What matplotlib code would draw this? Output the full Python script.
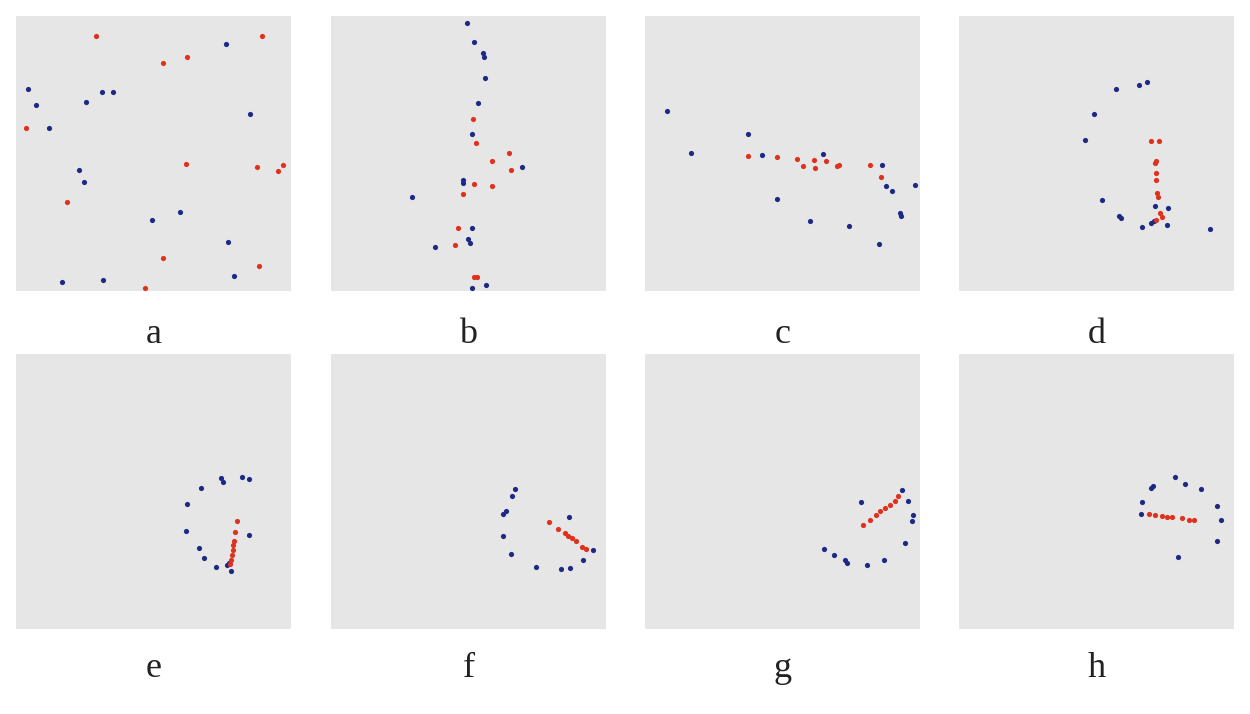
import matplotlib
matplotlib.use("Agg")
from matplotlib import pyplot as plt

# panel point positions (pixels inside each 275x275 panel, y downwards)
labels = ["a", "b", "c", "d", "e", "f", "g", "h"]

red_pts = {
    "a": [(80, 20), (147, 47), (171, 41), (246, 20), (10, 112), (170, 148), (241, 151), (262, 155),
          (267, 149), (51, 186), (147, 242), (243, 250), (129, 272)],
    "b": [(142, 103), (145, 127), (178, 137), (161, 145), (180, 154), (143, 168), (161, 170), (132, 178),
          (127, 212), (124, 229), (143, 261), (146, 261)],
    "c": [(103, 140), (132, 141), (152, 143), (158, 150), (169, 144), (170, 152), (181, 145), (192, 150),
          (194, 149), (225, 149), (236, 161)],
    "d": [(192, 125), (200, 125), (196, 147), (197, 145), (197, 157), (197, 164), (198, 177), (199, 181),
          (201, 197), (203, 201), (197, 204)],
    "e": [(221, 167), (219, 178), (218, 187), (217, 191), (217, 196), (216, 201), (215, 206), (214, 210)],
    "f": [(218, 168), (227, 175), (234, 179), (237, 182), (241, 184), (245, 187), (251, 193), (255, 195)],
    "g": [(218, 171), (225, 166), (231, 161), (235, 157), (240, 154), (245, 151), (250, 147), (253, 142)],
    "h": [(190, 160), (196, 161), (203, 162), (208, 163), (213, 163), (223, 164), (230, 166), (235, 166)],
}

blue_pts = {
    "a": [(210, 28), (12, 73), (20, 89), (70, 86), (86, 76), (97, 76), (33, 112), (234, 98), (63, 154),
          (68, 166), (164, 196), (136, 204), (212, 226), (218, 260), (46, 266), (87, 264)],
    "b": [(136, 7), (143, 26), (152, 37), (153, 41), (154, 62), (147, 87), (141, 118), (191, 151),
          (132, 164), (132, 167), (81, 181), (141, 212), (137, 223), (139, 227), (104, 231), (141, 272),
          (155, 269)],
    "c": [(22, 95), (46, 137), (103, 118), (117, 139), (178, 138), (237, 149), (241, 170), (247, 175),
          (270, 169), (132, 183), (165, 205), (204, 210), (255, 197), (256, 200), (234, 228)],
    "d": [(157, 73), (180, 69), (188, 66), (135, 98), (126, 124), (143, 184), (160, 200), (162, 202),
          (183, 211), (192, 207), (195, 205), (196, 190), (209, 192), (208, 209), (251, 213)],
    "e": [(205, 124), (207, 128), (226, 123), (233, 125), (185, 134), (171, 150), (170, 177), (233, 181),
          (183, 194), (188, 204), (200, 213), (211, 211), (213, 209), (215, 217)],
    "f": [(184, 135), (181, 142), (175, 157), (172, 160), (172, 182), (180, 200), (205, 213), (230, 215),
          (239, 214), (252, 206), (238, 163), (262, 196)],
    "g": [(216, 148), (257, 136), (263, 147), (268, 161), (267, 167), (260, 189), (179, 195), (189, 201),
          (200, 206), (202, 209), (222, 211), (239, 206)],
    "h": [(216, 123), (226, 130), (242, 135), (192, 134), (194, 132), (183, 148), (182, 160), (258, 152),
          (262, 166), (258, 187), (219, 203)],
}

W, H = 1250, 714
col_left = [16, 331, 645, 959]
row_top = [16, 354]
size = 275
label_base = [343, 677]

fig = plt.figure(figsize=(12.5, 7.14), dpi=100)
fig.patch.set_facecolor("white")

for i, lab in enumerate(labels):
    r, c = divmod(i, 4)
    x0 = col_left[c]
    y0 = row_top[r]
    ax = fig.add_axes([x0 / W, 1 - (y0 + size) / H, size / W, size / H])
    ax.set_facecolor("#e6e6e6")
    ax.set_xlim(0, size)
    ax.set_ylim(size, 0)
    for s in ax.spines.values():
        s.set_visible(False)
    ax.set_xticks([])
    ax.set_yticks([])

    bx = [p[0] for p in blue_pts[lab]]
    by = [p[1] for p in blue_pts[lab]]
    rx = [p[0] for p in red_pts[lab]]
    ry = [p[1] for p in red_pts[lab]]
    ax.scatter(bx, by, s=14, color="#1c2a86", linewidths=0, zorder=3)
    ax.scatter(rx, ry, s=14, color="#e0301e", linewidths=0, zorder=4)

    fig.text((x0 + size / 2) / W, 1 - label_base[r] / H, lab, ha="center", va="baseline",
             fontsize=26, family="Liberation Serif", color="#222222")

fig.savefig("out.png", dpi=100, facecolor="white")
